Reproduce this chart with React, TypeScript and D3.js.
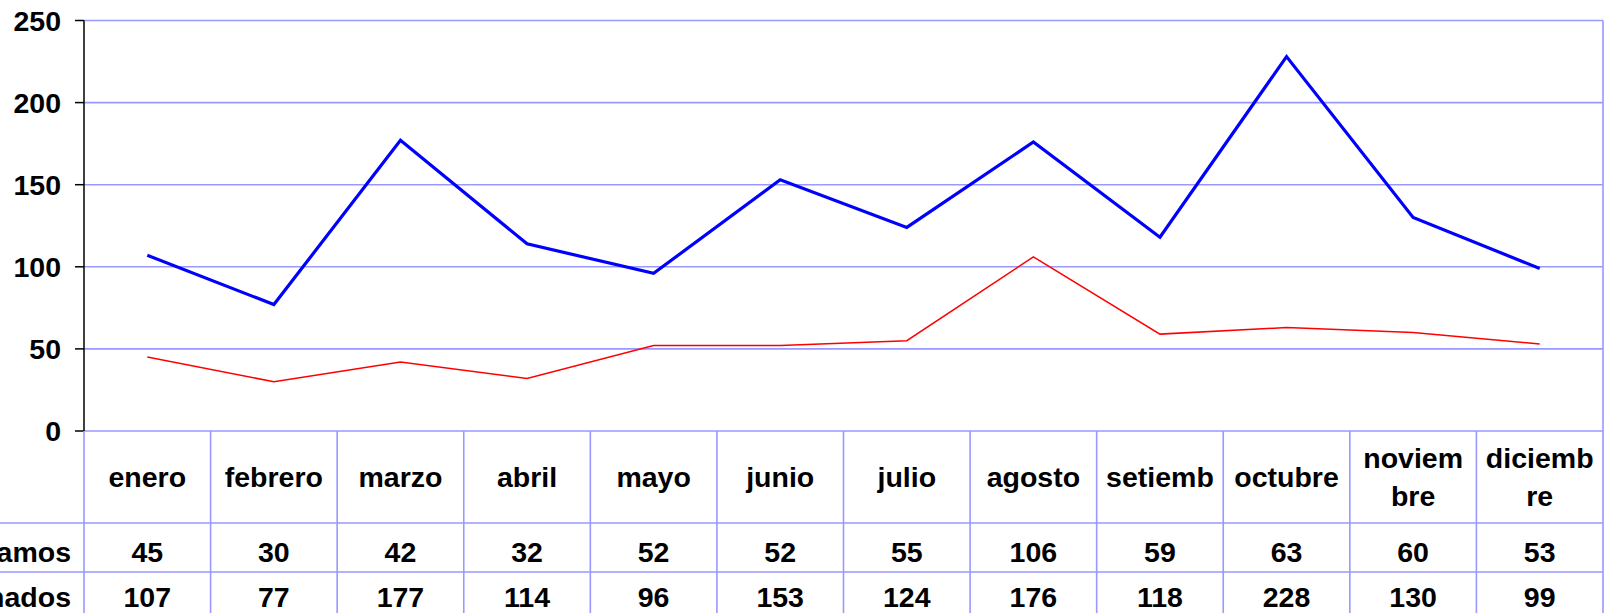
import * as d3 from "d3";

const months = ["enero", "febrero", "marzo", "abril", "mayo", "junio", "julio", "agosto", "setiemb", "octubre", "noviembre", "diciembre"];
const monthLines = [["enero"], ["febrero"], ["marzo"], ["abril"], ["mayo"], ["junio"], ["julio"], ["agosto"], ["setiemb"], ["octubre"], ["noviem", "bre"], ["diciemb", "re"]];
const reclamos = [45, 30, 42, 32, 52, 52, 55, 106, 59, 63, 60, 53];
const solucionados = [107, 77, 177, 114, 96, 153, 124, 176, 118, 228, 130, 99];
const seriesNames = ["Reclamos", "Solucionados"];
const yTicks = [0, 50, 100, 150, 200, 250];

const WIDTH = 1604;
const HEIGHT = 613;
const PLOT = { left: 84, right: 1603, top: 20.5, bottom: 431 };
const ROW_1 = 523;
const ROW_2 = 572;
const GRID = "#9999ff";
const FONT = "'Liberation Sans', Arial, sans-serif";
const FS = 28.5;

export default function App() {
  const x = d3.scaleBand<string>().domain(months).range([PLOT.left, PLOT.right]);
  const y = d3.scaleLinear().domain([0, 250]).range([PLOT.bottom, PLOT.top]);
  const cx = (i: number) => (x(months[i]) ?? 0) + x.bandwidth() / 2;
  const line = d3.line<number>().x((_, i) => cx(i)).y((v) => y(v));
  const rows = [reclamos, solucionados];
  const rowCenters = [552, 597];

  return (
    <svg
      width={WIDTH}
      height={HEIGHT}
      viewBox={`0 0 ${WIDTH} ${HEIGHT}`}
      style={{ position: "absolute", left: 0, top: 0, display: "block", background: "#fff" }}
      fontFamily={FONT}
      fontWeight="bold"
    >
      {yTicks.map((t) => (
        <g key={t}>
          <line x1={PLOT.left} x2={PLOT.right} y1={y(t)} y2={y(t)} stroke={GRID} strokeWidth="1.6" />
          <line x1={PLOT.left - 9} x2={PLOT.left} y1={y(t)} y2={y(t)} stroke="#000" strokeWidth="1.5" />
          <text x={61} y={y(t)} dy="0.36em" textAnchor="end" fontSize={FS}>
            {t}
          </text>
        </g>
      ))}
      <line x1={PLOT.right} x2={PLOT.right} y1={PLOT.top} y2={HEIGHT} stroke={GRID} strokeWidth="1.6" />

      {/* table grid */}
      {months.map((m, i) =>
        i === 0 ? null : (
          <line key={m} x1={x(m)} x2={x(m)} y1={PLOT.bottom} y2={HEIGHT} stroke={GRID} strokeWidth="1.6" />
        )
      )}
      <line x1={PLOT.left} x2={PLOT.left} y1={PLOT.bottom} y2={HEIGHT} stroke={GRID} strokeWidth="1.6" />
      <line x1={0} x2={PLOT.right} y1={ROW_1} y2={ROW_1} stroke={GRID} strokeWidth="1.6" />
      <line x1={0} x2={PLOT.right} y1={ROW_2} y2={ROW_2} stroke={GRID} strokeWidth="1.6" />

      <line x1={PLOT.left} x2={PLOT.left} y1={PLOT.top} y2={PLOT.bottom} stroke="#000" strokeWidth="1.5" />

      <path d={line(reclamos) ?? undefined} fill="none" stroke="#ff0000" strokeWidth="1.5" />
      <path d={line(solucionados) ?? undefined} fill="none" stroke="#0000ff" strokeWidth="3.2" />

      {monthLines.map((parts, i) => {
        const mid = (PLOT.bottom + ROW_1) / 2;
        const lh = 38;
        const start = mid - ((parts.length - 1) * lh) / 2;
        return (
          <text key={months[i]} x={cx(i)} textAnchor="middle" fontSize={FS}>
            {parts.map((p, j) => (
              <tspan key={j} x={cx(i)} y={start + j * lh} dy="0.36em">
                {p}
              </tspan>
            ))}
          </text>
        );
      })}

      {rows.map((vals, r) => (
        <g key={r}>
          <text x={71} y={rowCenters[r]} dy="0.36em" textAnchor="end" fontSize={FS}>
            {seriesNames[r]}
          </text>
          {vals.map((v, i) => (
            <text key={i} x={cx(i)} y={rowCenters[r]} dy="0.36em" textAnchor="middle" fontSize={FS}>
              {v}
            </text>
          ))}
        </g>
      ))}
    </svg>
  );
}
